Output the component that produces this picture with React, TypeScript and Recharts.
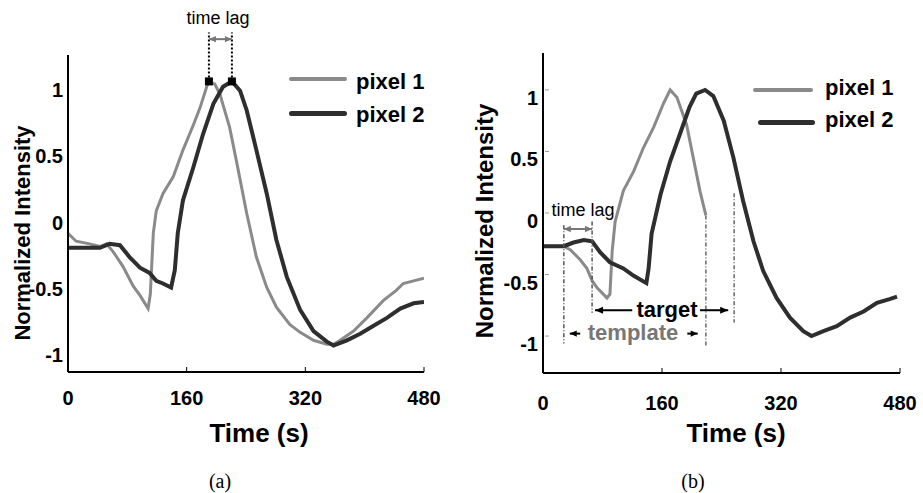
import React from "react";
import { LineChart, Line, XAxis, YAxis, ReferenceLine, ReferenceDot } from "recharts";

const xTicks = [0, 160, 320, 480];
const yTicks = [-1, -0.5, 0, 0.5, 1];

// panel (a)
const aPixel1Time = [0, 11, 29, 43, 52, 61, 74, 88, 97, 108, 111, 115, 119, 128, 142, 155, 169, 178, 187, 190, 198, 205, 218, 227, 241, 254, 268, 281, 299, 313, 331, 349, 358, 367, 385, 403, 425, 443, 452, 466, 480];
const aPixel1Value = [-0.15, -0.21, -0.23, -0.25, -0.23, -0.29, -0.4, -0.55, -0.62, -0.72, -0.61, -0.15, 0.02, 0.15, 0.28, 0.48, 0.67, 0.8, 0.96, 1.0, 0.98, 0.9, 0.65, 0.4, 0.0, -0.33, -0.56, -0.71, -0.84, -0.9, -0.96, -0.99, -0.99, -0.96, -0.89, -0.79, -0.66, -0.58, -0.53, -0.51, -0.49];
const aPixel2Time = [0, 43, 56, 70, 83, 97, 110, 119, 128, 139, 144, 148, 155, 169, 182, 196, 209, 221, 232, 241, 254, 268, 281, 295, 313, 331, 349, 358, 376, 394, 412, 430, 448, 466, 480];
const aPixel2Value = [-0.26, -0.26, -0.23, -0.24, -0.33, -0.41, -0.45, -0.51, -0.53, -0.56, -0.43, -0.15, 0.1, 0.35, 0.6, 0.83, 0.96, 1.0, 0.93, 0.78, 0.48, 0.15, -0.2, -0.48, -0.73, -0.89, -0.97, -1.0, -0.96, -0.91, -0.85, -0.79, -0.72, -0.68, -0.67];
const aPeakTimes = [190, 221];

// panel (b)
const bPixel1Time = [0, 28, 37, 50, 59, 66, 73, 86, 90, 93, 97, 108, 122, 135, 149, 162, 171, 180, 193, 202, 211, 219];
const bPixel1Value = [-0.27, -0.27, -0.3, -0.38, -0.45, -0.55, -0.61, -0.69, -0.66, -0.31, -0.07, 0.18, 0.34, 0.53, 0.7, 0.89, 1.0, 0.94, 0.72, 0.45, 0.18, -0.02];
const bPixel2Time = [0, 28, 41, 55, 66, 77, 90, 108, 122, 139, 142, 146, 158, 171, 184, 197, 206, 218, 229, 243, 256, 269, 283, 296, 314, 332, 350, 361, 377, 395, 413, 431, 449, 466, 476];
const bPixel2Value = [-0.27, -0.27, -0.24, -0.22, -0.23, -0.32, -0.4, -0.45, -0.51, -0.57, -0.45, -0.17, 0.15, 0.42, 0.64, 0.86, 0.97, 1.0, 0.95, 0.75, 0.45, 0.1, -0.23, -0.47, -0.69, -0.85, -0.96, -1.0, -0.96, -0.92, -0.85, -0.8, -0.73, -0.7, -0.68];
const bLagTimes = [28, 66];
const bTemplateEnd = 219;
const bTargetEnd = 257;

const GRAY = "#8a8a8a";
const DARK = "#2e2e2e";
const SANS = "'Liberation Sans', Arial, sans-serif";

const rows = (ts: number[], vs: number[]) => ts.map((t, i) => ({ t, v: vs[i] }));

const XTick = ({ x, y, payload, dy }: any) => (
  <g>
    {payload.value !== 0 && <line x1={x} x2={x} y1={y} y2={y - 5} stroke="#000" strokeWidth={1} />}
    <text x={x} y={y + dy} textAnchor="middle" fontFamily={SANS} fontWeight="bold" fontSize={20} fill="#000">
      {payload.value}
    </text>
  </g>
);

const YTick = ({ x, y, payload, dy, mark }: any) => (
  <g>
    {mark && <line x1={x + 2} x2={x + 6} y1={y} y2={y} stroke="#999" strokeWidth={1} />}
    <text x={x - 5} y={y + dy} textAnchor="end" fontFamily={SANS} fontWeight="bold" fontSize={20} fill="#000">
      {payload.value}
    </text>
  </g>
);

const arrow = (color: string, both: boolean, w: number, head: number) => (p: any) => {
  const { x1, y1, x2, y2 } = p;
  const a = Math.atan2(y2 - y1, x2 - x1);
  const tip = (x: number, y: number, ang: number) => {
    const bx = x - head * Math.cos(ang);
    const by = y - head * Math.sin(ang);
    const nx = -Math.sin(ang) * head * 0.45;
    const ny = Math.cos(ang) * head * 0.45;
    return `${x},${y} ${bx + nx},${by + ny} ${bx - nx},${by - ny}`;
  };
  return (
    <g>
      <line x1={x1} y1={y1} x2={x2} y2={y2} stroke={color} strokeWidth={w} />
      <polygon points={tip(x2, y2, a)} fill={color} />
      {both && <polygon points={tip(x1, y1, a + Math.PI)} fill={color} />}
    </g>
  );
};

const square = (p: any) => <rect x={p.cx - 4} y={p.cy - 4} width={8} height={8} fill="#000" />;

const Txt = ({ x, y, children, style, left }: any) => (
  <div
    style={{
      position: "absolute",
      left: x,
      top: y,
      transform: left ? "translate(0,-50%)" : "translate(-50%,-50%)",
      whiteSpace: "nowrap",
      lineHeight: 1,
      fontFamily: SANS,
      ...style,
    }}
  >
    {children}
  </div>
);

const Swatch = ({ x1, x2, y, color, w }: any) => (
  <div style={{ position: "absolute", left: x1, top: y - w / 2, width: x2 - x1, height: w, background: color, borderRadius: w / 2 }} />
);

const axisLine = { stroke: "#000", strokeWidth: 2 };
const bold = { fontWeight: "bold" as const };

export default function App() {
  return (
    <div style={{ position: "absolute", left: 0, top: 0, width: 923, height: 493, background: "#fff", overflow: "hidden" }}>
      {/* panel (a) */}
      <div style={{ position: "absolute", left: 0, top: 0 }}>
        <LineChart width={460} height={493} margin={{ top: 55, right: 36, bottom: 61, left: 0 }}>
          <XAxis
            type="number"
            dataKey="t"
            domain={[0, 480]}
            ticks={xTicks}
            height={60}
            tickSize={0}
            tickMargin={0}
            axisLine={axisLine}
            tickLine={false}
            tick={(p: any) => <XTick {...p} dy={33} />}
            allowDataOverflow
          />
          <YAxis
            type="number"
            domain={[-1.2, 1.2]}
            ticks={yTicks}
            width={68}
            tickSize={0}
            tickMargin={0}
            axisLine={axisLine}
            tickLine={false}
            tick={(p: any) => <YTick {...p} dy={16} />}
            allowDataOverflow
          />
          <Line data={rows(aPixel1Time, aPixel1Value)} dataKey="v" type="linear" stroke={GRAY} strokeWidth={3} dot={false} isAnimationActive={false} />
          <Line data={rows(aPixel2Time, aPixel2Value)} dataKey="v" type="linear" stroke={DARK} strokeWidth={4} dot={false} isAnimationActive={false} />
          {aPeakTimes.map((t) => (
            <ReferenceLine
              key={t}
              segment={[{ x: t, y: 1 }, { x: t, y: 1.37 }]}
              stroke="#000"
              strokeWidth={2}
              strokeDasharray="2 2"
              ifOverflow="visible"
            />
          ))}
          <ReferenceLine
            segment={[{ x: aPeakTimes[0], y: 1.32 }, { x: aPeakTimes[1], y: 1.32 }]}
            ifOverflow="visible"
            shape={arrow("#777", true, 2, 7)}
          />
          <ReferenceDot x={aPeakTimes[0]} y={1} shape={square} ifOverflow="visible" />
          <ReferenceDot x={aPeakTimes[1]} y={1} shape={square} ifOverflow="visible" />
        </LineChart>
      </div>

      {/* panel (b) */}
      <div style={{ position: "absolute", left: 460, top: 0 }}>
        <LineChart width={463} height={493} margin={{ top: 53, right: 23, bottom: 60, left: 0 }}>
          <XAxis
            type="number"
            dataKey="t"
            domain={[0, 480]}
            ticks={xTicks}
            height={60}
            tickSize={0}
            tickMargin={0}
            axisLine={axisLine}
            tickLine={false}
            tick={(p: any) => <XTick {...p} dy={37} />}
            allowDataOverflow
          />
          <YAxis
            type="number"
            domain={[-1.3, 1.3]}
            ticks={yTicks}
            width={83}
            tickSize={0}
            tickMargin={0}
            axisLine={axisLine}
            tickLine={false}
            tick={(p: any) => <YTick {...p} dy={15} mark />}
            allowDataOverflow
          />
          <Line data={rows(bPixel1Time, bPixel1Value)} dataKey="v" type="linear" stroke={GRAY} strokeWidth={3} dot={false} isAnimationActive={false} />
          <Line data={rows(bPixel2Time, bPixel2Value)} dataKey="v" type="linear" stroke={DARK} strokeWidth={4} dot={false} isAnimationActive={false} />
          <ReferenceLine segment={[{ x: bLagTimes[0], y: -0.1 }, { x: bLagTimes[0], y: -1.06 }]} stroke="#555" strokeWidth={1.5} strokeDasharray="4 2 1 2" />
          <ReferenceLine segment={[{ x: bLagTimes[1], y: -0.07 }, { x: bLagTimes[1], y: -0.81 }]} stroke="#555" strokeWidth={1.5} strokeDasharray="4 2 1 2" />
          <ReferenceLine segment={[{ x: bTemplateEnd, y: -0.02 }, { x: bTemplateEnd, y: -1.09 }]} stroke="#666" strokeWidth={1.5} strokeDasharray="4 2 1 2" />
          <ReferenceLine segment={[{ x: bTargetEnd, y: 0.16 }, { x: bTargetEnd, y: -0.89 }]} stroke="#666" strokeWidth={1.5} strokeDasharray="4 2 1 2" />
          <ReferenceLine
            segment={[{ x: bLagTimes[0], y: -0.13 }, { x: bLagTimes[1], y: -0.13 }]}
            shape={arrow("#777", true, 2, 7)}
          />
          <ReferenceLine segment={[{ x: 120, y: -0.79 }, { x: 70, y: -0.79 }]} shape={arrow("#000", false, 2, 8)} />
          <ReferenceLine segment={[{ x: 211, y: -0.79 }, { x: 249, y: -0.79 }]} shape={arrow("#000", false, 2, 8)} />
          <ReferenceLine segment={[{ x: 50, y: -0.98 }, { x: 36, y: -0.98 }]} shape={arrow("#000", false, 2, 7)} />
          <ReferenceLine segment={[{ x: 194, y: -0.98 }, { x: 208, y: -0.98 }]} shape={arrow("#000", false, 2, 7)} />
        </LineChart>
      </div>

      {/* panel (a) texts */}
      <Txt x={218} y={18} style={{ fontSize: 18 }}>time lag</Txt>
      <Swatch x1={289} x2={347} y={79} color={GRAY} w={4} />
      <Swatch x1={289} x2={347} y={113} color={DARK} w={5} />
      <Txt x={356} y={82} left style={{ ...bold, fontSize: 22 }}>pixel 1</Txt>
      <Txt x={356} y={115} left style={{ ...bold, fontSize: 22 }}>pixel 2</Txt>
      <Txt x={23} y={233} style={{ ...bold, fontSize: 22, transform: "translate(-50%,-50%) rotate(-90deg)" }}>Normalized Intensity</Txt>
      <Txt x={259} y={433} style={{ ...bold, fontSize: 26 }}>Time (s)</Txt>
      <Txt x={220} y={481} style={{ fontSize: 20, fontFamily: "'Liberation Serif', serif" }}>(a)</Txt>

      {/* panel (b) texts */}
      <Txt x={583} y={210} style={{ fontSize: 18 }}>time lag</Txt>
      <Txt x={667} y={310} style={{ ...bold, fontSize: 22, background: "#fff", padding: "0 2px" }}>target</Txt>
      <Txt x={633} y={333} style={{ ...bold, fontSize: 22, color: "#777" }}>template</Txt>
      <Swatch x1={753} x2={813} y={90} color={GRAY} w={4} />
      <Swatch x1={758} x2={815} y={122} color={DARK} w={5} />
      <Txt x={825} y={88} left style={{ ...bold, fontSize: 22 }}>pixel 1</Txt>
      <Txt x={825} y={120} left style={{ ...bold, fontSize: 22 }}>pixel 2</Txt>
      <Txt x={485} y={221} style={{ ...bold, fontSize: 24, transform: "translate(-50%,-50%) rotate(-90deg)" }}>Normalized Intensity</Txt>
      <Txt x={736} y={433} style={{ ...bold, fontSize: 26 }}>Time (s)</Txt>
      <Txt x={693} y={481} style={{ fontSize: 20, fontFamily: "'Liberation Serif', serif" }}>(b)</Txt>
    </div>
  );
}
